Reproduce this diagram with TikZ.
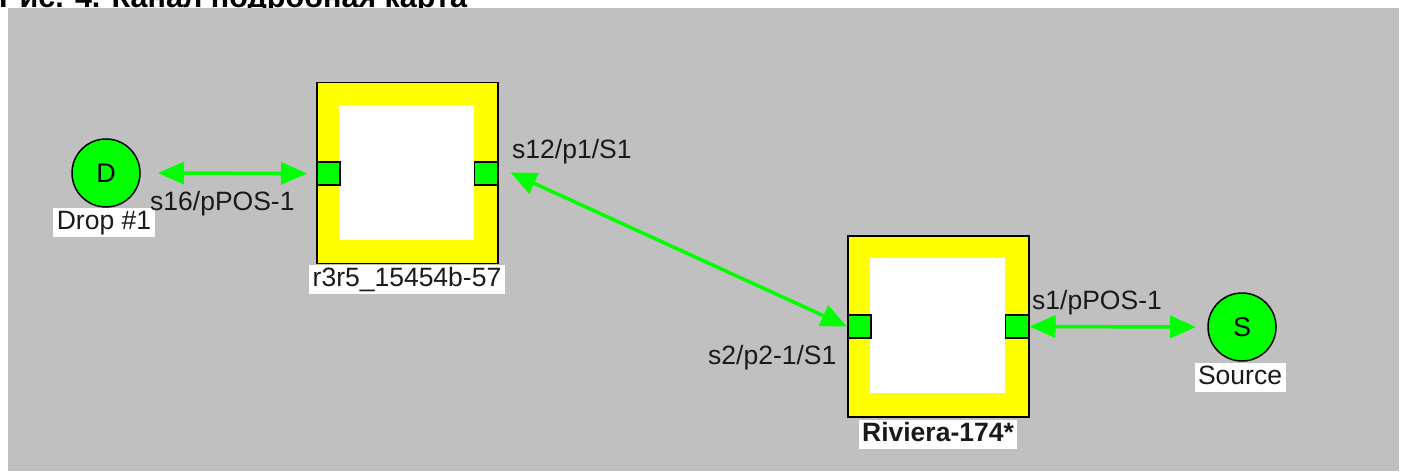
\documentclass[tikz,border=0pt]{standalone}
\usepackage{fontspec}
\setmainfont{Liberation Sans}
\usetikzlibrary{arrows.meta,calc}
\definecolor{bg}{HTML}{C0C0C0}
\definecolor{grn}{HTML}{00FF00}
\definecolor{ylw}{HTML}{FFFF00}
\definecolor{txt}{HTML}{1A1A1A}
\tikzset{
  dev/.style={draw=black,line width=1.5pt,fill=ylw,minimum width=181pt,minimum height=181pt,inner sep=0pt,outer sep=0pt},
  devin/.style={fill=white,minimum width=135pt,minimum height=135pt,inner sep=0pt,outer sep=0pt},
  port/.style={draw=black,line width=1.3pt,fill=grn,minimum width=23pt,minimum height=23pt,inner sep=0pt,outer sep=0pt},
  site/.style={circle,draw=black,line width=1.5pt,fill=grn,minimum size=68pt,inner sep=0pt,outer sep=0pt,font=\fontsize{27}{27}\selectfont},
  lbl/.style={font=\fontsize{26.5}{27}\selectfont,text=txt,inner sep=0pt,anchor=base west},
  tag/.style={font=\fontsize{26.5}{27}\selectfont,text=txt,fill=white,inner xsep=3.5pt,inner ysep=2.5pt,text height=19pt,text depth=5pt},
  link/.style={draw=grn,line width=3.5pt,{Triangle[length=26pt,width=22pt]}-{Triangle[length=26pt,width=22pt]}}
}
\begin{document}
\begin{tikzpicture}[x=1pt,y=-1pt]
\useasboundingbox (0,0) rectangle (1407,471);
% clipped title
\node[font=\fontsize{30.5}{30}\selectfont\bfseries,inner sep=0pt,anchor=base west] (title) at (-1,7) {Рис. 4. Канал подробная карта};
\fill[bg] (8,8) rectangle (1399,471);

% device 1
\node[dev] (b1) at (407.5,173) {};
\node[devin] (b1in) at (406.5,172.5) {};
\node[port] (p1l) at (328.5,173.5) {};
\node[port] (p1r) at (486,173.5) {};
\node[tag] (b1lab) at (407,279.5) {r3r5\_15454b-57};

% device 2
\node[dev] (b2) at (938.5,326.5) {};
\node[devin] (b2in) at (937.5,325.5) {};
\node[port] (p2l) at (859.5,326.5) {};
\node[port] (p2r) at (1017,326.5) {};
\node[tag,font=\fontsize{26.5}{27}\selectfont\bfseries] (b2lab) at (938,434.5) {Riviera-174*};

% sites
\node[site] (D) at (106,173) {D};
\node[tag] (Dlab) at (104,222.5) {Drop \#1};
\node[site] (S) at (1242,327) {S};
\node[tag] (Slab) at (1240,377.5) {Source};

% links
\draw[link] ([xshift=18pt]D.east) -- ([xshift=-10pt]p1l.west);
\draw[link] ([xshift=13pt,yshift=1pt]p1r.east) -- ([xshift=-1pt]p2l.west);
\draw[link] ([xshift=1pt]p2r.east) -- ([xshift=-12pt]S.west);

% port labels
\node[lbl] (l1) at (150,210) {s16/pPOS-1};
\node[lbl] (l2) at (512,158) {s12/p1/S1};
\node[lbl] (l3) at (708,364) {s2/p2-1/S1};
\node[lbl] (l4) at (1032,309) {s1/pPOS-1};
\end{tikzpicture}
\end{document}
